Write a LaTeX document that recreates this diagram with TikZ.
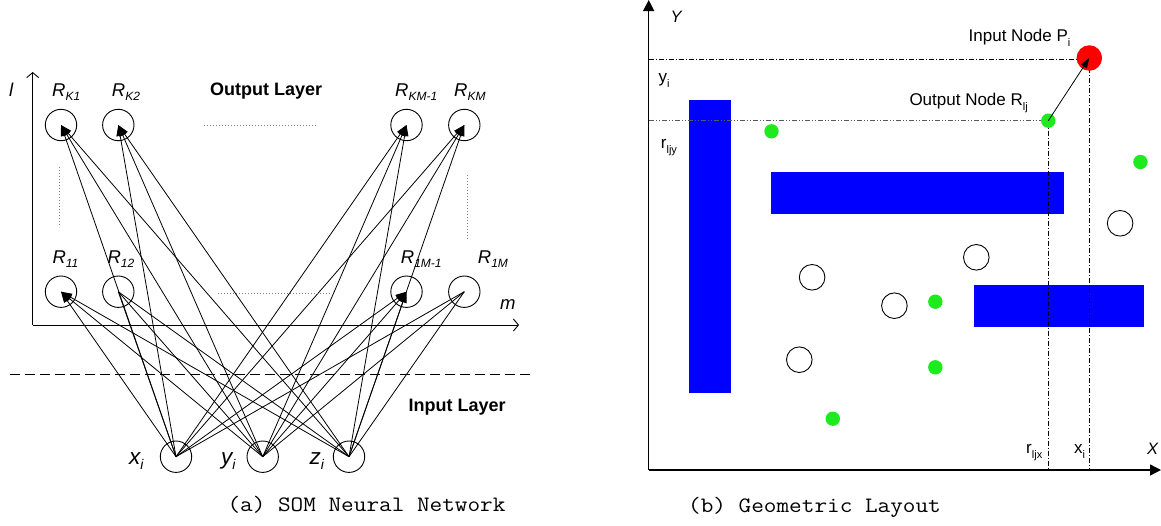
\documentclass[tikz,border=0pt]{standalone}
\usepackage{fontspec}
\usepackage{graphicx}
\setmainfont{Liberation Sans}
\usetikzlibrary{arrows.meta}
\newcommand\mysub[3]{\raisebox{-#1pt}{\fontsize{#2}{#2}\selectfont #3}}
\definecolor{mygreen}{RGB}{30,235,30}
\begin{document}
\begin{tikzpicture}[x=1pt,y=-1pt,
  neuron/.style={circle,draw,line width=0.9pt,minimum size=31.4pt,inner sep=0pt},
  conn/.style={line width=0.8pt,-{Triangle[length=11pt,width=7.5pt]}},
  plainconn/.style={line width=0.8pt},
  laxis/.style={line width=0.9pt,-{Straight Barb[length=5pt,width=12pt]}},
  dotl/.style={gray,line width=0.8pt,dash pattern=on 1pt off 2pt},
  lbl/.style={inner sep=0pt,anchor=base west},
  rlbl/.style={lbl,font=\fontsize{18.5}{20}\selectfont\itshape},
  inlbl/.style={lbl,font=\fontsize{22.5}{24}\selectfont\itshape},
  layerlbl/.style={lbl,font=\fontsize{18}{20}\selectfont\bfseries},
  txtlbl/.style={lbl,font=\fontsize{17}{19}\selectfont},
  axlbl/.style={lbl,font=\fontsize{16.5}{18}\selectfont\itshape},
  caption/.style={inner sep=0pt,anchor=base},
  ocirc/.style={circle,draw,line width=0.9pt,minimum size=25.6pt,inner sep=0pt},
  gdot/.style={circle,fill=mygreen,minimum size=14.4pt,inner sep=0pt},
  rdot/.style={circle,fill=red,minimum size=25.5pt,inner sep=0pt},
  raxis/.style={line width=1.3pt,-{Triangle[length=11pt,width=11pt]}},
  dashdot/.style={line width=0.8pt,dash pattern=on 5pt off 2pt on 1pt off 2pt},
  dashdotdot/.style={gray!70!black,line width=0.8pt,dash pattern=on 5pt off 2pt on 1pt off 2pt on 1pt off 2pt},
]
\useasboundingbox (0,0) rectangle (1161,525);

% ---------------- left panel ----------------
\coordinate (lo) at (32.7,325);
\coordinate (ltop) at (32.7,72);
\coordinate (lright) at (519,325);
\draw[laxis] (lo) -- (ltop);
\draw[laxis] (lo) -- (lright);
\node[rlbl] (lax) at (9,96) {l};
\node[rlbl] (max) at (500,309) {m};

\node[neuron] (rk1) at (61,125) {};
\node[neuron] (rk2) at (118.3,125) {};
\node[neuron] (rkm1) at (406.5,125) {};
\node[neuron] (rkm) at (464.3,125) {};
\node[neuron] (r11) at (61,291.7) {};
\node[neuron] (r12) at (118.3,291.7) {};
\node[neuron] (r1m1) at (406.5,291.7) {};
\node[neuron] (r1m) at (464.3,291.7) {};
\node[neuron] (xi) at (176,456.7) {};
\node[neuron] (yi) at (262.7,456.7) {};
\node[neuron] (zi) at (349,456.7) {};

\foreach \s in {xi,yi,zi}{
  \foreach \t in {rk1,rk2,rkm1,rkm,r11,r1m1}
    \draw[conn] (\s.center) -- (\t.center);
  \foreach \t in {r12,r1m}
    \draw[plainconn] (\s.center) -- (\t.center);
}

\node[rlbl] (lk1) at (52,96.7) {R\mysub{4}{12}{K1}};
\node[rlbl] (lk2) at (111.7,96.7) {R\mysub{4}{12}{K2}};
\node[rlbl] (lkm1) at (395,96.7) {R\mysub{4}{12}{KM-1}};
\node[rlbl] (lkm) at (454,96.7) {R\mysub{4}{12}{KM}};
\node[rlbl] (l11) at (52.3,263.3) {R\mysub{4.5}{12}{11}};
\node[rlbl] (l12) at (107.3,263.3) {R\mysub{4.5}{12}{12}};
\node[rlbl] (l1m1) at (400.7,263.3) {R\mysub{4.5}{12}{1M-1}};
\node[rlbl] (l1m) at (477.7,263.3) {R\mysub{4.5}{12}{1M}};

\node[layerlbl] (outl) at (210,95) {Output Layer};
\node[layerlbl] (inl) at (408.4,411.7) {Input Layer};

\node[inlbl] (lxi) at (129,464.3) {x\mysub{5}{14}{i}};
\node[inlbl] (lyi) at (221,464.3) {y\mysub{5}{14}{i}};
\node[inlbl] (lzi) at (309.5,464.3) {z\mysub{5}{14}{i}};

\draw[dotl] (204,125.7) -- (317,125.7);
\draw[dotl] (218,293.3) -- (331,293.3);
\draw[dotl] (59,166.7) -- (59,226.7);
\draw[dotl] (467.7,175) -- (467.7,238.3);

\draw[line width=0.8pt,dash pattern=on 10pt off 5pt] (10,374.3) -- (530,374.3);

\node[caption] (capa) at (366.5,511) {\fontsize{22}{24}\selectfont\ttfamily\scalebox{1.115}[1]{(a) SOM Neural Network}};

% ---------------- right panel ----------------
\fill[blue] (689.3,100) rectangle (730.7,392.7);
\fill[blue] (770.9,172) rectangle (1063.9,213.7);
\fill[blue] (973.9,285) rectangle (1143.8,326.7);

\coordinate (ro) at (648.7,470);
\coordinate (pc) at (1089.3,58);
\coordinate (gc) at (1048.3,120.7);
\coordinate (ya) at (648.7,59.3);
\coordinate (yb) at (648.7,120.7);
\coordinate (xa) at (1048.3,470);
\coordinate (xb) at (1089.3,470);
\draw[dashdot] (ya) -- (1089.3,59.3);
\draw[dashdotdot] (yb) -- (gc);
\draw[dashdot] (gc) -- (xa);
\draw[dashdot] (pc) -- (xb);

\draw[raxis] (ro) -- (648.7,0);
\draw[raxis] (ro) -- (1161,470);

\node[ocirc] (c1) at (1120.1,223.3) {};
\node[ocirc] (c2) at (976.3,257.3) {};
\node[ocirc] (c3) at (812.1,277.3) {};
\node[ocirc] (c4) at (894.4,305.7) {};
\node[ocirc] (c5) at (799.3,359.7) {};

\node[gdot] (g1) at (771.5,131.3) {};
\node[gdot] (g2) at (1140.4,162) {};
\node[gdot] (g3) at (935.3,301.7) {};
\node[gdot] (g4) at (935.3,367.3) {};
\node[gdot] (g5) at (832.8,418.7) {};

\node[rdot] (p) at (pc) {};
\node[gdot] (rlj) at (gc) {};
\draw[line width=0.8pt,-{Triangle[length=10pt,width=7pt]}] (rlj.center) -- (p.center);

\node[txtlbl] (pl) at (968.5,41.7) {Input Node P\mysub{5}{11}{i}};
\node[txtlbl] (rl) at (909.3,105) {Output Node R\mysub{5}{11}{lj}};
\node[txtlbl] (yil) at (658.3,82) {y\mysub{5}{11}{i}};
\node[txtlbl] (ryl) at (660.7,148.3) {r\mysub{5}{11}{ljy}};
\node[txtlbl] (rxl) at (1026,453.3) {r\mysub{5}{11}{ljx}};
\node[txtlbl] (xil) at (1074,453.3) {x\mysub{5}{11}{i}};
\node[axlbl] (xl) at (1147,454.3) {X};
\node[axlbl] (yl) at (670.5,22) {Y};

\node[caption] (capb) at (814.5,512.5) {\fontsize{22}{24}\selectfont\ttfamily\scalebox{1.115}[1]{(b) Geometric Layout}};
\end{tikzpicture}
\end{document}
